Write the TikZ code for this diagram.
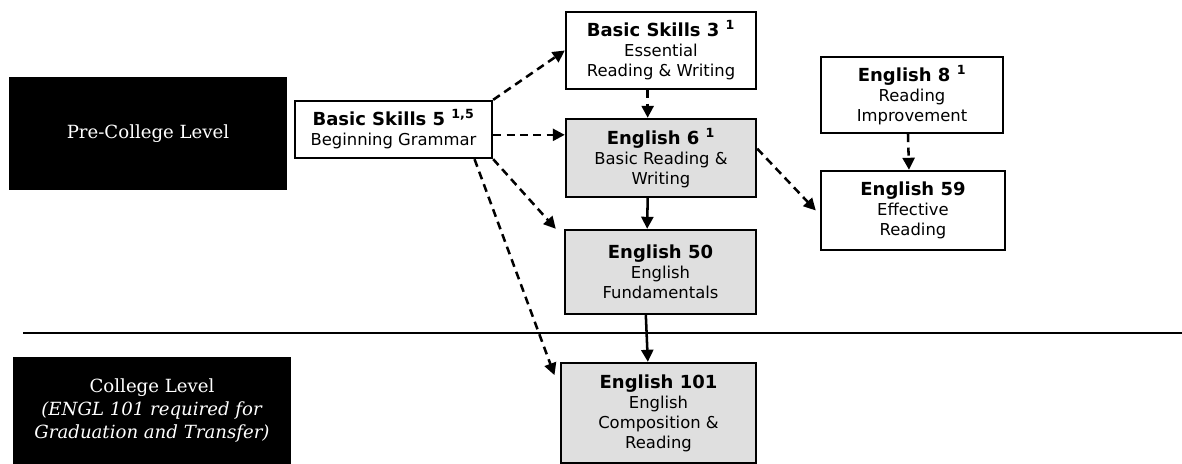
\documentclass[tikz,border=0pt]{standalone}
\usepackage{fontspec}
\setmainfont{DejaVu Sans}
\newfontfamily\slabfont{DejaVu Serif}
\usetikzlibrary{arrows.meta}
\newcommand{\coursetitle}[1]{{\fontsize{13.5}{16}\selectfont\bfseries #1}}
\begin{document}
\begin{tikzpicture}[x=0.75pt,y=-0.75pt,
        course/.style={draw,line width=1.8pt,align=center,inner sep=0pt,font=\fontsize{12.3}{15}\selectfont},
        core/.style={course,fill=gray!25},
        level/.style={fill=black,text=white,align=center,inner sep=0pt,font=\slabfont\fontsize{13.6}{17.3}\selectfont},
        optional/.style={line width=1.9pt,dash pattern=on 6pt off 4pt,-{Triangle[length=9pt,width=9pt]}},
        required/.style={line width=1.9pt,-{Triangle[length=9pt,width=9pt]}}]
        \useasboundingbox (0,0) rectangle (1182,464);
        \node[level,minimum width=208.5pt,minimum height=84.75pt] (PreCollege) at (148,133.5) {Pre-College Level};
        \node[level,minimum width=208.5pt,minimum height=80.25pt] (College) at (152,410.5) {College Level\\\textit{(ENGL 101 required for}\\\textit{Graduation and Transfer)}};
        \node[course,minimum width=147.75pt,minimum height=42.75pt] (BS5) at (393.5,129.5) {\coursetitle{Basic Skills 5 \textsuperscript{1,5}}\\Beginning Grammar};
        \node[course,minimum width=142.5pt,minimum height=57.75pt] (BS3) at (661,50.5) {\coursetitle{Basic Skills 3 \textsuperscript{1}}\\Essential\\Reading \& Writing};
        \node[core,minimum width=142.5pt,minimum height=58.5pt] (E6) at (661,158) {\coursetitle{English 6 \textsuperscript{1}}\\Basic Reading \&\\Writing};
        \node[core,minimum width=143.25pt,minimum height=63pt] (E50) at (660.5,272) {\coursetitle{English 50}\\English\\Fundamentals};
        \node[core,minimum width=146.25pt,minimum height=75pt] (E101) at (658.5,413) {\coursetitle{English 101}\\English\\Composition \&\\Reading};
        \node[course,minimum width=136.5pt,minimum height=57pt] (E8) at (912,95) {\coursetitle{English 8 \textsuperscript{1}}\\Reading\\Improvement};
        \node[course,minimum width=138pt,minimum height=59.25pt] (E59) at (913,210.5) {\coursetitle{English 59}\\Effective\\Reading};
        % dividing rule between the two levels
        \coordinate (RuleW) at (23,333);
        \coordinate (RuleE) at (1182,333);
        \draw[line width=1.8pt] (RuleW) -- (RuleE);
        \coordinate (BS5out) at ([yshift=-4pt]BS5.east);
        \draw[optional] (BS5.north east) -- (BS3.west);
        \draw[optional] (BS5out) -- (BS5out -| E6.west);
        \draw[optional] (BS5.south east) -- ([xshift=-6pt]E50.north west);
        \draw[optional] ([xshift=-14pt]BS5.south east) -- ([xshift=-4pt,yshift=-10pt]E101.north west);
        \draw[optional] ([xshift=-10pt]BS3.south) -- ([xshift=-10pt]E6.north);
        \draw[required] ([xshift=-10pt]E6.south) -- ([xshift=-10pt]E50.north);
        \draw[required] ([xshift=-11pt]E50.south) -- ([xshift=-8pt]E101.north);
        \draw[optional] ([xshift=-3pt]E8.south) -- ([xshift=-3pt]E59.north);
        \draw[optional] ([yshift=7pt]E6.east) -- ([xshift=-3pt]E59.west);
    \end{tikzpicture}
\end{document}
